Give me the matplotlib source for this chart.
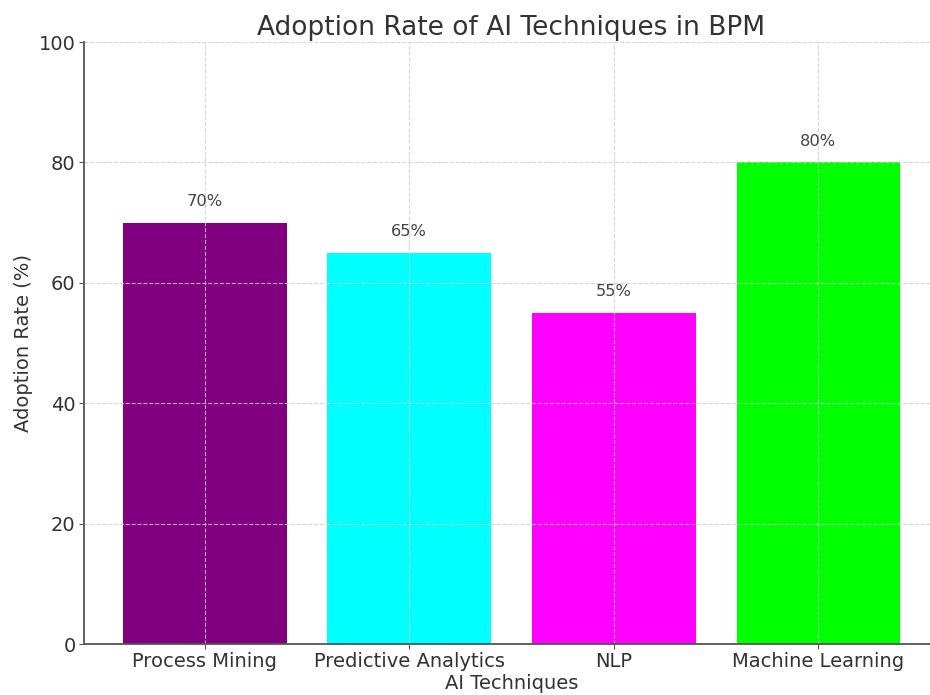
import matplotlib.pyplot as plt

techniques = ["Process Mining", "Predictive Analytics", "NLP", "Machine Learning"]
adoption = [70, 65, 55, 80]
colors = ["purple", "cyan", "magenta", "lime"]

fig = plt.figure(figsize=(9.3, 6.95), dpi=100)
# axes run a bit past the right edge, as in the reference crop
ax = fig.add_axes([84 / 930, 51 / 695, 855 / 930, 602 / 695])

bars = ax.bar(techniques, adoption, color=colors, width=0.8)
for b, v in zip(bars, adoption):
    ax.text(b.get_x() + b.get_width() / 2, v + 2.3, f"{v}%",
            ha="center", va="bottom", fontsize=11.7, color="#444444")

ax.set_ylim(0, 100)
ax.set_title("Adoption Rate of AI Techniques in BPM", fontsize=19, color="#333333", pad=5)
ax.set_xlabel("AI Techniques", fontsize=14, color="#333333", labelpad=2)
ax.set_ylabel("Adoption Rate (%)", fontsize=14, color="#333333")
ax.tick_params(labelsize=14, labelcolor="#333333", color="#555555", pad=2.5)
ax.grid(True, linestyle="--", color="#cccccc", alpha=0.8)
ax.spines["top"].set_visible(False)
ax.spines["right"].set_visible(False)
for s in ("left", "bottom"):
    ax.spines[s].set_color("#555555")
    ax.spines[s].set_linewidth(1.3)

fig.savefig("out.png", dpi=100)
